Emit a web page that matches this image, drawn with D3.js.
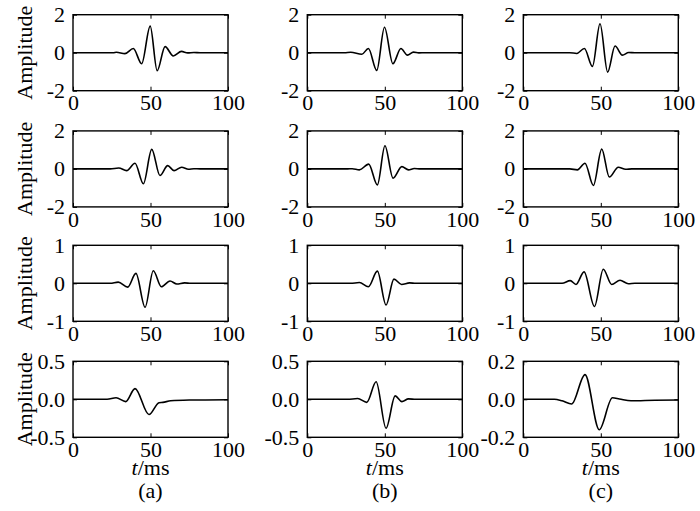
<!DOCTYPE html>
<html lang="en">
<head>
<meta charset="UTF-8">
<title>Wavelets</title>
<style>
  body { margin: 0; background: #fff; }
  svg { display: block; }
  text { font-family: "Liberation Serif", "Times New Roman", serif; fill: #000; }
</style>
</head>
<body>
<div id="chart"></div>
<script src="https://cdnjs.cloudflare.com/ajax/libs/d3/7.8.5/d3.min.js"></script>
<script>
// [t (ms), amplitude], local extrema only
const waveA1 = [[0,0],[26,0],[28,0.02],[33.5,-0.05],[38.9,0.22],[44.3,-0.58],[49.8,1.4],[54.3,-0.95],[59.4,0.32],[64.7,-0.17],[70,0.07],[74,-0.01],[78,0.01],[82,0],[100,0]];
const waveB1 = [[0,0],[24,0],[28,0.02],[35.2,-0.08],[39.4,0.22],[44.8,-0.93],[49.8,1.34],[55.2,-0.58],[60.4,0.22],[64.6,-0.13],[68.5,0.03],[72,-0.01],[76,0],[100,0]];
const waveC1 = [[0,0],[30,0],[34.4,-0.04],[39.4,0.22],[44.6,-0.72],[49.5,1.52],[54.4,-1.02],[59.2,0.35],[63.9,-0.13],[68,0.01],[72,0],[100,0]];

const waveA2 = [[0,0],[24,0],[29.5,0.05],[34.6,-0.09],[40,0.30],[45.4,-0.78],[50.8,1.03],[56.1,-0.35],[61.1,0.17],[65.2,-0.09],[70.1,0.09],[74.5,-0.02],[78,0.01],[82,0],[100,0]];
const waveB2 = [[0,0],[26,0],[29,0.01],[33.6,-0.05],[39.6,0.25],[45.2,-0.84],[50.1,1.22],[55.3,-0.49],[61,0.12],[65.3,-0.05],[69,0.02],[73,0],[100,0]];
const waveC2 = [[0,0],[30,0],[34.9,-0.05],[39.8,0.30],[45.2,-0.87],[50.6,1.04],[55.5,-0.43],[61.3,0.09],[66,-0.02],[70,0],[100,0]];

const waveA3 = [[0,0],[24,0],[29.2,0.03],[35.3,-0.10],[40.6,0.26],[46.5,-0.63],[51.8,0.33],[57,-0.09],[62.6,0.06],[67,-0.02],[72,0.01],[76,0],[100,0]];
const waveB3 = [[0,0],[28,0],[33.6,0.02],[39.4,-0.09],[45.2,0.32],[50.8,-0.57],[55.9,0.11],[60.8,-0.03],[66,0.01],[70,0],[100,0]];
const waveC3 = [[0,0],[25,0],[30.3,0.07],[34,-0.03],[39.2,0.30],[45.9,-0.61],[51.6,0.37],[57,-0.03],[62.4,0.08],[67.8,-0.01],[72,0],[100,0]];

const waveA4 = [[0,0],[22,0],[27.8,0.02],[34,-0.03],[40,0.14],[49,-0.20],[55.5,-0.045],[58,-0.04],[63,-0.02],[75,-0.01],[100,-0.005]];
const waveB4 = [[0,0],[26,0],[32.5,0.01],[38.4,-0.04],[44.4,0.23],[50.8,-0.38],[56.7,0.045],[61,-0.03],[65.3,0.005],[70,0],[100,0]];
const waveC4 = [[0,0],[20,0],[25,-0.008],[31.2,-0.025],[39.8,0.13],[49,-0.16],[57.5,0.008],[62,0.002],[69.5,-0.008],[85,-0.005],[100,-0.004]];

const xTicks = [0, 50, 100];
const xTickLabels = ["0", "50", "100"];
const yTicksBig = [-2, 0, 2], yLabelsBig = ["-2", "0", "2"];
const yTicksOne = [-1, 0, 1], yLabelsOne = ["-1", "0", "1"];
const yTicksHalf = [-0.5, 0, 0.5], yLabelsHalf = ["-0.5", "0.0", "0.5"];
const yTicksSmall = [-0.2, 0, 0.2], yLabelsSmall = ["-0.2", "0.0", "0.2"];
const colLabels = ["(a)", "(b)", "(c)"];

const width = 700, height = 511;
const colLeft = [73, 307.3, 523.3];
const rowTop = [14.7, 130.9, 245.3, 361.3];
const pw = 155, ph = 76;
const fontSize = 22;
const serif = '"Liberation Serif", "Times New Roman", serif';

const panels = [
  { r: 0, c: 0, data: waveA1, yt: yTicksBig, yl: yLabelsBig },
  { r: 0, c: 1, data: waveB1, yt: yTicksBig, yl: yLabelsBig },
  { r: 0, c: 2, data: waveC1, yt: yTicksBig, yl: yLabelsBig },
  { r: 1, c: 0, data: waveA2, yt: yTicksBig, yl: yLabelsBig },
  { r: 1, c: 1, data: waveB2, yt: yTicksBig, yl: yLabelsBig },
  { r: 1, c: 2, data: waveC2, yt: yTicksBig, yl: yLabelsBig },
  { r: 2, c: 0, data: waveA3, yt: yTicksOne, yl: yLabelsOne },
  { r: 2, c: 1, data: waveB3, yt: yTicksOne, yl: yLabelsOne },
  { r: 2, c: 2, data: waveC3, yt: yTicksOne, yl: yLabelsOne },
  { r: 3, c: 0, data: waveA4, yt: yTicksHalf, yl: yLabelsHalf },
  { r: 3, c: 1, data: waveB4, yt: yTicksHalf, yl: yLabelsHalf },
  { r: 3, c: 2, data: waveC4, yt: yTicksSmall, yl: yLabelsSmall }
];

const svg = d3.select('#chart')
  .append('svg')
  .attr('width', width)
  .attr('height', height)
  .style('font-family', serif);

panels.forEach(p => {
  const g = svg.append('g')
    .attr('transform', `translate(${colLeft[p.c]},${rowTop[p.r]})`);

  const x = d3.scaleLinear().domain([0, 100]).range([0, pw]);
  const y = d3.scaleLinear().domain([p.yt[0], p.yt[2]]).range([ph, 0]);

  const bottom = g.append('g')
    .attr('transform', `translate(0,${ph})`)
    .call(d3.axisBottom(x).tickValues(xTicks).tickSize(-4).tickPadding(4)
      .tickFormat((d, i) => xTickLabels[i]));
  const top = g.append('g')
    .call(d3.axisTop(x).tickValues(xTicks).tickSize(-4).tickFormat(''));
  const left = g.append('g')
    .call(d3.axisLeft(y).tickValues(p.yt).tickSize(-4).tickPadding(8)
      .tickFormat((d, i) => p.yl[i]));
  const right = g.append('g')
    .attr('transform', `translate(${pw},0)`)
    .call(d3.axisRight(y).tickValues(p.yt).tickSize(-4).tickFormat(''));

  [bottom, top, left, right].forEach(a => {
    a.attr('font-family', null).style('font-family', serif);
    a.select('.domain').remove();
    a.selectAll('.tick line').attr('stroke', '#000').attr('stroke-width', 1);
    a.selectAll('text')
      .style('font-family', serif)
      .attr('font-size', fontSize)
      .attr('fill', '#000');
  });

  g.append('rect')
    .attr('width', pw)
    .attr('height', ph)
    .attr('fill', 'none')
    .attr('stroke', '#000')
    .attr('stroke-width', 1.4);

  const line = d3.line()
    .x(d => x(d[0]))
    .y(d => y(d[1]))
    .curve(d3.curveMonotoneX);

  g.append('path')
    .datum(p.data)
    .attr('d', line)
    .attr('fill', 'none')
    .attr('stroke', '#000')
    .attr('stroke-width', 1.6);

  if (p.c === 0) {
    svg.append('text')
      .attr('transform', `translate(32,${rowTop[p.r] + ph / 2}) rotate(-90)`)
      .attr('text-anchor', 'middle')
      .attr('font-size', fontSize)
      .text('Amplitude');
  }
});

// column captions under the last row
colLeft.forEach((cx, i) => {
  const t = svg.append('text')
    .attr('x', cx + pw / 2)
    .attr('y', 475)
    .attr('text-anchor', 'middle')
    .attr('font-size', fontSize);
  t.append('tspan').attr('font-style', 'italic').text('t');
  t.append('tspan').text('/ms');

  svg.append('text')
    .attr('x', cx + pw / 2)
    .attr('y', 498)
    .attr('text-anchor', 'middle')
    .attr('font-size', fontSize)
    .text(colLabels[i]);
});
</script>
</body>
</html>
